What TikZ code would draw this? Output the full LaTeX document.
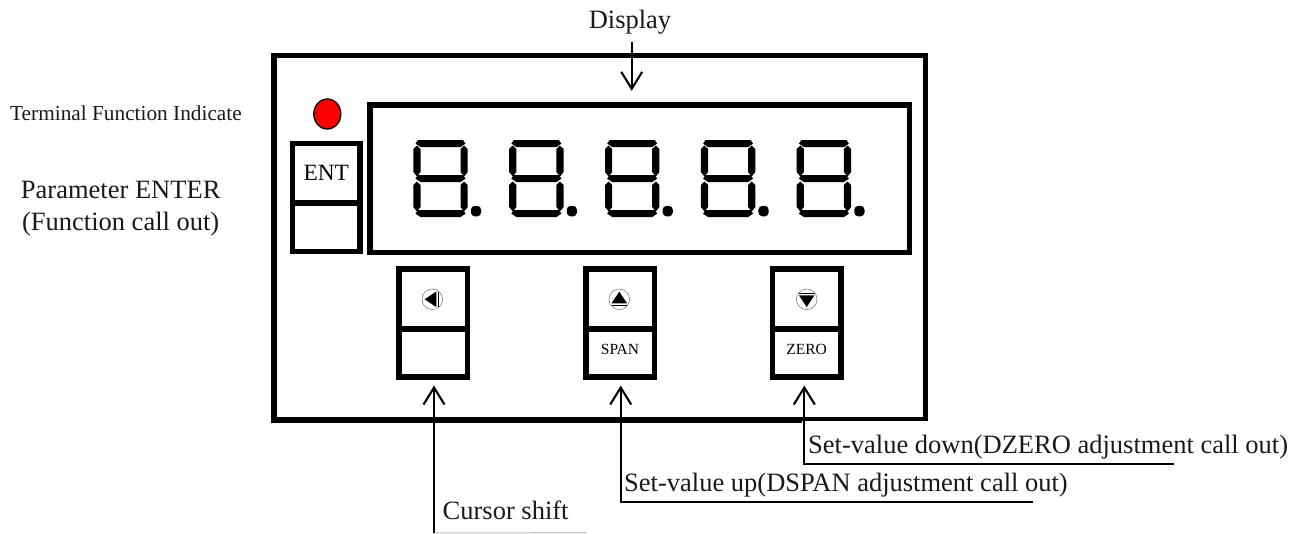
\documentclass[tikz,border=0pt]{standalone}
\usepackage{fontspec}
\setmainfont{Liberation Serif}
\usetikzlibrary{arrows.meta,positioning,shapes.geometric}

\begin{document}
\begin{tikzpicture}[x=1pt,y=-1pt]
        \tikzstyle{textlabel} = [font=\fontsize{26.5}{32}\selectfont, inner sep=0pt, text=black!90]
        \tikzstyle{panelbox} = [rectangle, draw=black, line width=5.6pt, outer sep=0pt]
        \tikzstyle{keytop} = [panelbox, minimum width=68.6pt, minimum height=59.5pt, inner sep=0pt]
        \tikzstyle{keylow} = [panelbox, minimum width=68.6pt, minimum height=48.5pt, inner sep=0pt]
        \tikzstyle{keytext} = [font=\fontsize{15.5}{18}\selectfont, text depth=7.4pt]
        \tikzstyle{markring} = [circle, draw=black!50, line width=0.6pt, minimum size=20.6pt, inner sep=0pt]
        \tikzstyle{arrow} = [line width=2.1pt, -{Straight Barb[length=17pt,width=21pt]}]
        \useasboundingbox (0,0) rectangle (1305,533);

        \node (panel) [panelbox, minimum width=651.8pt, minimum height=364.9pt] at (599.6,237.75) {};
        \fill [white] (802,421) rectangle (931,425);
        \node (display) [panelbox, minimum width=539.7pt, minimum height=147.7pt] at (639.65,178.65) {};
        \node (led) [ellipse, draw=black, line width=1.3pt, fill=red, minimum width=27pt, minimum height=30pt, inner sep=0pt] at (327.3,114) {};

        % keys
        \node (enttop) [keytop, minimum width=67.5pt, font=\fontsize{23.3}{26}\selectfont] at (326.25,173.25) {ENT};
        \node (entlow) [keylow, minimum width=67.5pt, below=0pt of enttop] {};
        \node (lefttop) [keytop] at (433,299) {};
        \node (leftlow) [keylow, below=0pt of lefttop] {};
        \node (uptop) [keytop] at (620,299) {};
        \node (uplow) [keylow, keytext, below=0pt of uptop] {SPAN};
        \node (downtop) [keytop] at (806.65,299) {};
        \node (downlow) [keylow, keytext, below=0pt of downtop] {ZERO};

        % key marks
        \node (leftmark) [markring] at (432.3,299.3) {};
        \node (upmark) [markring] at (619.3,299.3) {};
        \node (downmark) [markring] at (806.7,299.3) {};
        \foreach \mark/\turn in {leftmark/90,upmark/0,downmark/180} {
            \begin{scope}[shift={(\mark)},rotate=\turn]
                \fill [black] (0,-7.7) -- (7.8,4) -- (-7.8,4) -- cycle;
                \draw [line width=1pt] (-7.8,5.8) -- (7.8,5.8);
            \end{scope}
        }

        % display digits
        \foreach \digit in {0,...,4} {
            \begin{scope}[shift={(413.3+95.85*\digit,140)}]
                \foreach \bar in {0,35,70} {
                    \fill [black] (2.2,\bar+3.6) -- (4.7,\bar) -- (49.7,\bar) -- (52.2,\bar+3.6) -- (47,\bar+7.2) -- (7.5,\bar+7.2) -- cycle;
                }
                \foreach \side in {0,47.2} {
                    \fill [black] (\side+3.6,5.5) -- (\side+7.2,9) -- (\side+7.2,32) -- (\side+3.6,36.5) -- (\side,32) -- (\side,9) -- cycle;
                    \fill [black] (\side+3.6,41.5) -- (\side+7.2,45) -- (\side+7.2,67) -- (\side+3.6,71.5) -- (\side,67) -- (\side,45) -- cycle;
                }
                \fill [black, rounded corners=4pt] (57.6,65.8) rectangle (67.8,76.4);
            \end{scope}
        }

        % labels
        \node (displaylabel) [textlabel, anchor=base] at (630,28) {Display};
        \node (terminallabel) [textlabel, anchor=base west, font=\fontsize{21.3}{24}\selectfont] at (10,120) {Terminal Function Indicate};
        \node (enterlabel) [textlabel, align=center] at (120.7,208.5) {Parameter ENTER\\(Function call out)};
        \node (cursorlabel) [textlabel, anchor=base west] at (442.5,519) {Cursor shift};
        \node (uplabel) [textlabel, anchor=base west] at (624,491) {Set-value up(DSPAN adjustment call out)};
        \node (downlabel) [textlabel, anchor=base west] at (808,453.7) {Set-value down(DZERO adjustment call out)};

        % connectors
        \coordinate (displayend) at (631.7,41.7);
        \coordinate (cursorend) at (586,532.6);
        \coordinate (cursorbend) at (434,533);
        \coordinate (upend) at (1033,501.7);
        \coordinate (upbend) at (620.7,501.7);
        \coordinate (downend) at (1174,464.3);
        \coordinate (downbend) at (804.3,464.3);

        \draw [arrow, shorten >=14pt] (displayend) -- (displayend |- display.north);
        \draw [line width=1pt, black!25] (cursorbend) -- (cursorend);
        \draw [arrow, shorten >=8.3pt] (cursorbend) -- (cursorbend |- leftlow.south);
        \draw [arrow, shorten >=8.3pt] (upend) -- (upbend) -- (upbend |- uplow.south);
        \draw [arrow, shorten >=8.3pt] (downend) -- (downbend) -- (downbend |- downlow.south);
    \end{tikzpicture}
\end{document}
